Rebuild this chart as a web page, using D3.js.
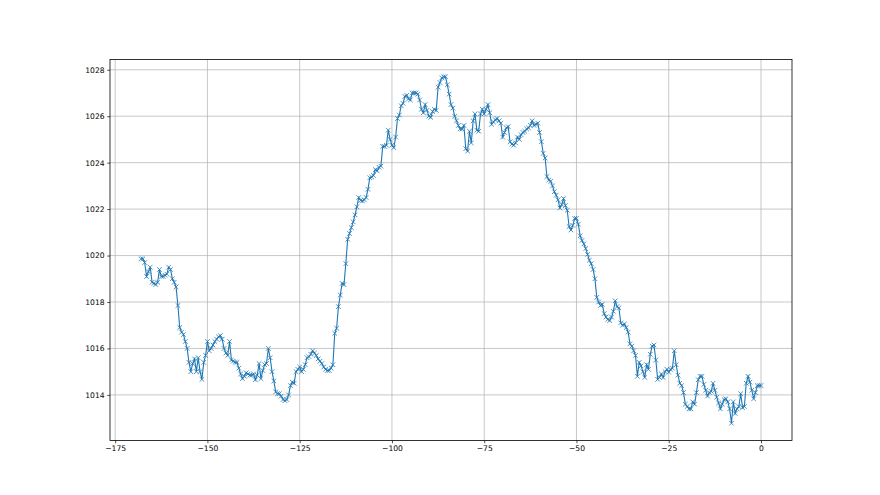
<!DOCTYPE html>
<html>
<head>
<meta charset="utf-8">
<title>Pressure</title>
<script src="https://d3js.org/d3.v7.min.js"></script>
<style>
  body { margin: 0; background: #fff; }
  .tick text { font-family: "DejaVu Sans", sans-serif; font-size: 7.6px; fill: #000; }
</style>
</head>
<body>
<div id="chart"></div>
<script>

// hours relative to now (x) and pressure readings (y)
const hours = [
  -168,-167.5,-167,-166.5,-166,-165.5,-165,-164.5,-164,-163.5,-163,-162.5,-162,-161.5,-161,-160.5,-160,-159.5,-159,-158.5,
  -158,-157.5,-157,-156.5,-156,-155.5,-155,-154.5,-154,-153.5,-153,-152.5,-152,-151.5,-151,-150.5,-150,-149.5,-149,-148.5,
  -148,-147.5,-147,-146.5,-146,-145.5,-145,-144.5,-144,-143.5,-143,-142.5,-142,-141.5,-141,-140.5,-140,-139.5,-139,-138.5,
  -138,-137.5,-137,-136.5,-136,-135.5,-135,-134.5,-134,-133.5,-133,-132.5,-132,-131.5,-131,-130.5,-130,-129.5,-129,-128.5,
  -128,-127.5,-127,-126.5,-126,-125.5,-125,-124.5,-124,-123.5,-123,-122.5,-122,-121.5,-121,-120.5,-120,-119.5,-119,-118.5,
  -118,-117.5,-117,-116.5,-116,-115.5,-115,-114.5,-114,-113.5,-113,-112.5,-112,-111.5,-111,-110.5,-110,-109.5,-109,-108.5,
  -108,-107.5,-107,-106.5,-106,-105.5,-105,-104.5,-104,-103.5,-103,-102.5,-102,-101.5,-101,-100.5,-100,-99.5,-99,-98.5,
  -98,-97.5,-97,-96.5,-96,-95.5,-95,-94.5,-94,-93.5,-93,-92.5,-92,-91.5,-91,-90.5,-90,-89.5,-89,-88.5,
  -88,-87.5,-87,-86.5,-86,-85.5,-85,-84.5,-84,-83.5,-83,-82.5,-82,-81.5,-81,-80.5,-80,-79.5,-79,-78.5,
  -78,-77.5,-77,-76.5,-76,-75.5,-75,-74.5,-74,-73.5,-73,-72.5,-72,-71.5,-71,-70.5,-70,-69.5,-69,-68.5,
  -68,-67.5,-67,-66.5,-66,-65.5,-65,-64.5,-64,-63.5,-63,-62.5,-62,-61.5,-61,-60.5,-60,-59.5,-59,-58.5,
  -58,-57.5,-57,-56.5,-56,-55.5,-55,-54.5,-54,-53.5,-53,-52.5,-52,-51.5,-51,-50.5,-50,-49.5,-49,-48.5,
  -48,-47.5,-47,-46.5,-46,-45.5,-45,-44.5,-44,-43.5,-43,-42.5,-42,-41.5,-41,-40.5,-40,-39.5,-39,-38.5,
  -38,-37.5,-37,-36.5,-36,-35.5,-35,-34.5,-34,-33.5,-33,-32.5,-32,-31.5,-31,-30.5,-30,-29.5,-29,-28.5,
  -28,-27.5,-27,-26.5,-26,-25.5,-25,-24.5,-24,-23.5,-23,-22.5,-22,-21.5,-21,-20.5,-20,-19.5,-19,-18.5,
  -18,-17.5,-17,-16.5,-16,-15.5,-15,-14.5,-14,-13.5,-13,-12.5,-12,-11.5,-11,-10.5,-10,-9.5,-9,-8.5,
  -8,-7.5,-7,-6.5,-6,-5.5,-5,-4.5,-4,-3.5,-3,-2.5,-2,-1.5,-1,-0.5,0
];

const pressure = [
  1019.86,1019.86,1019.7,1019.1,1019.3,1019.5,1018.85,1018.8,1018.75,1018.85,1019.4,1019.1,1019.1,1019.15,1019.2,1019.5,1019.4,1019.0,1018.85,1018.65,
  1017.85,1016.9,1016.7,1016.6,1016.3,1016.0,1015.4,1015.0,1015.35,1015.55,1015.0,1015.6,1015.0,1014.67,1015.4,1015.7,1016.3,1015.9,1016.0,1016.15,
  1016.3,1016.4,1016.5,1016.55,1016.4,1016.0,1015.8,1015.7,1016.3,1015.5,1015.45,1015.4,1015.4,1015.15,1014.9,1014.7,1014.8,1014.95,1014.9,1014.85,
  1014.85,1014.9,1014.65,1014.85,1015.35,1014.7,1015.05,1015.3,1015.35,1016.0,1015.6,1015.0,1014.6,1014.13,1014.05,1014.05,1013.95,1013.8,1013.75,1013.8,
  1014.0,1014.4,1014.55,1014.5,1015.0,1015.1,1015.2,1015.0,1015.1,1015.3,1015.6,1015.65,1015.75,1015.9,1015.8,1015.7,1015.55,1015.45,1015.35,1015.2,
  1015.1,1015.05,1015.05,1015.15,1015.3,1016.65,1016.87,1017.8,1018.3,1018.8,1018.75,1019.65,1020.7,1020.95,1021.2,1021.45,1021.75,1022.1,1022.5,1022.37,
  1022.35,1022.4,1022.5,1022.85,1023.35,1023.38,1023.45,1023.7,1023.65,1023.8,1023.85,1024.7,1024.7,1024.75,1025.4,1025.0,1024.75,1024.65,1025.1,1025.9,
  1026.05,1026.45,1026.55,1026.85,1026.9,1026.75,1026.7,1027.0,1027.0,1027.0,1026.95,1026.7,1026.3,1026.15,1026.5,1026.25,1026.0,1025.95,1026.2,1026.3,
  1026.25,1027.25,1027.45,1027.65,1027.7,1027.7,1027.35,1026.95,1026.5,1026.35,1026.0,1025.8,1025.6,1025.45,1025.45,1025.6,1024.6,1024.5,1025.35,1024.85,
  1025.8,1026.1,1025.4,1025.35,1026.1,1026.3,1026.1,1026.3,1026.5,1026.15,1025.65,1025.75,1025.85,1025.9,1025.8,1025.7,1025.1,1025.3,1025.5,1025.55,
  1024.9,1024.8,1024.75,1024.85,1025.1,1025.0,1025.2,1025.3,1025.35,1025.45,1025.5,1025.6,1025.8,1025.6,1025.65,1025.7,1025.3,1024.9,1024.4,1024.2,
  1023.4,1023.25,1023.2,1023.0,1022.75,1022.6,1022.4,1022.05,1022.2,1022.45,1022.15,1021.95,1021.25,1021.1,1021.3,1021.6,1021.6,1021.35,1020.85,1020.65,
  1020.5,1020.3,1020.05,1019.8,1019.65,1019.4,1019.0,1018.2,1018.0,1017.85,1017.9,1017.5,1017.35,1017.25,1017.2,1017.35,1017.6,1018.05,1017.8,1017.75,
  1017.1,1017.0,1017.05,1016.9,1016.7,1016.2,1016.1,1015.9,1015.7,1014.8,1015.4,1015.25,1015.0,1014.75,1015.3,1015.1,1015.75,1016.1,1016.15,1015.5,
  1014.67,1014.75,1014.9,1014.75,1015.0,1015.1,1014.98,1015.1,1015.15,1015.9,1015.3,1014.85,1014.5,1014.4,1014.1,1013.6,1013.5,1013.4,1013.4,1013.7,
  1013.6,1014.1,1014.65,1014.8,1014.8,1014.45,1014.2,1013.95,1014.1,1014.15,1014.5,1014.2,1013.9,1013.65,1013.4,1013.6,1013.8,1013.83,1013.7,1013.4,
  1012.78,1013.7,1013.2,1013.4,1013.5,1014.05,1013.45,1013.5,1014.5,1014.8,1014.55,1014.2,1013.83,1014.1,1014.4,1014.4,1014.4
];

const xTicks = [-175, -150, -125, -100, -75, -50, -25, 0];
const yTicks = [1014, 1016, 1018, 1020, 1022, 1024, 1026, 1028];

function render_plot() {

  let margin = {top: 59.4, right: 88, bottom: 54.45, left: 110};
  let w = 880 - margin.left - margin.right;
  let h = 495 - margin.top - margin.bottom;

  let data = hours.map(function(t, i) { return {t: t, p: pressure[i]}; });

  let svg = d3.select("#chart")
      .append("svg")
        .attr("width", 880)
        .attr("height", 495)
      .append("g")
        .attr("transform", "translate(" + margin.left + "," + margin.top + ")");

  // 5% padding like matplotlib autoscale
  let xExt = d3.extent(hours), yExt = d3.extent(pressure);
  let xPad = (xExt[1] - xExt[0]) * 0.05, yPad = (yExt[1] - yExt[0]) * 0.05;

  let xScale = d3.scaleLinear()
      .domain([xExt[0] - xPad, xExt[1] + xPad])
      .range([0, w]);

  let yScale = d3.scaleLinear()
      .domain([yExt[0] - yPad, yExt[1] + yPad])
      .range([h, 0]);

  let fmt = function(d) { return String(d).replace("-", "\u2212"); };

  // grid
  svg.append("g").selectAll("line").data(xTicks).enter().append("line")
      .attr("x1", d => xScale(d)).attr("x2", d => xScale(d))
      .attr("y1", 0).attr("y2", h)
      .attr("stroke", "#b0b0b0").attr("stroke-width", 0.7);
  svg.append("g").selectAll("line").data(yTicks).enter().append("line")
      .attr("x1", 0).attr("x2", w)
      .attr("y1", d => yScale(d)).attr("y2", d => yScale(d))
      .attr("stroke", "#b0b0b0").attr("stroke-width", 0.7);

  // axes
  let xAxis = d3.axisBottom(xScale).tickValues(xTicks).tickFormat(fmt)
      .tickSizeInner(2.7).tickSizeOuter(0).tickPadding(2.7);
  let yAxis = d3.axisLeft(yScale).tickValues(yTicks).tickFormat(fmt)
      .tickSizeInner(2.7).tickSizeOuter(0).tickPadding(2.7);

  let gx = svg.append("g").attr("transform", "translate(0," + h + ")").call(xAxis);
  let gy = svg.append("g").call(yAxis);
  [gx, gy].forEach(function(g) {
    g.select(".domain").remove();
    g.selectAll(".tick line").attr("stroke", "#000").attr("stroke-width", 0.7);
  });

  // line
  let line = d3.line().x(d => xScale(d.t)).y(d => yScale(d.p));
  svg.append("path")
      .datum(data)
      .attr("fill", "none")
      .attr("stroke", "#1f77b4")
      .attr("stroke-width", 1.1)
      .attr("d", line);

  // x markers
  let m = 2.3;
  svg.append("g").selectAll("path.mk").data(data).enter().append("path")
      .attr("class", "mk")
      .attr("d", function(d) {
        let x = xScale(d.t), y = yScale(d.p);
        return "M" + (x - m) + "," + (y - m) + "L" + (x + m) + "," + (y + m) +
               "M" + (x - m) + "," + (y + m) + "L" + (x + m) + "," + (y - m);
      })
      .attr("stroke", "#1f77b4")
      .attr("stroke-width", 0.8)
      .attr("fill", "none");

  // frame
  svg.append("rect")
      .attr("width", w).attr("height", h)
      .attr("fill", "none")
      .attr("stroke", "#000")
      .attr("stroke-width", 0.8);
}

render_plot();

</script>
</body>
</html>
